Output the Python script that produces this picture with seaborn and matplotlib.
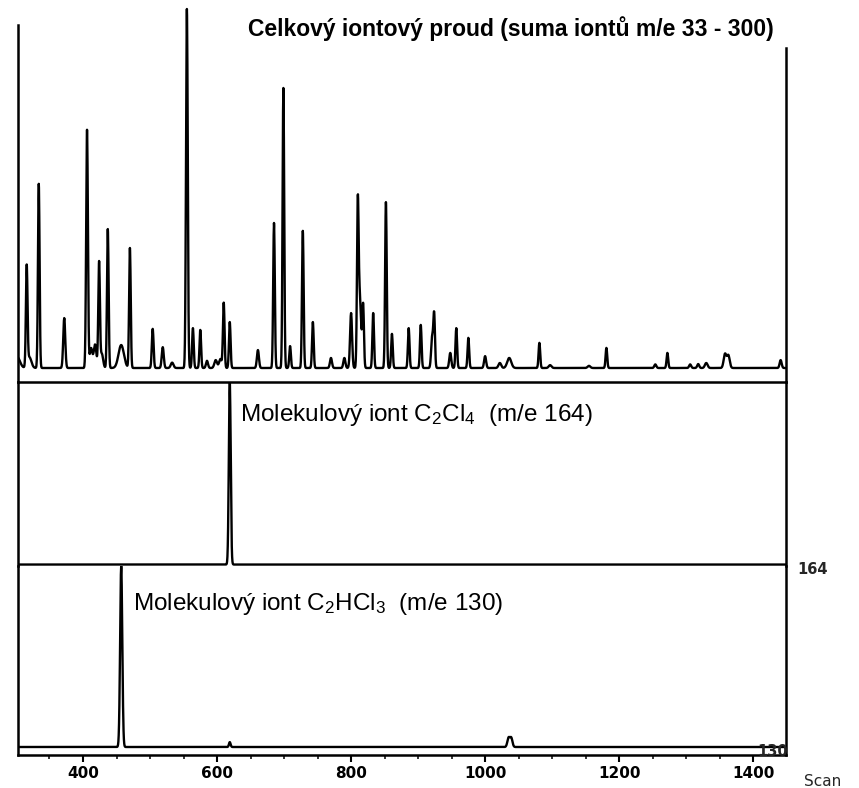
import numpy as np
import pandas as pd
import matplotlib
matplotlib.use("Agg")
import matplotlib.pyplot as plt
import seaborn as sns

# ---- chromatogram data (scan number, relative intensity %, peak sigma in scans) ----
tic_scan = [302, 316, 320, 334, 372, 406, 412, 418, 424, 428, 437, 457, 470, 504, 519, 533,
            555, 564, 575, 585, 598, 605, 610, 619, 661, 685, 699, 709, 728, 743, 770, 790,
            800, 810, 813, 818, 833, 852, 861, 886, 904, 921, 924, 948, 957, 975, 1000,
            1022, 1036, 1081, 1097, 1155, 1181, 1254, 1272, 1306, 1318, 1330, 1358, 1363, 1441]
tic_height = [3.0, 27.6, 3.0, 51.3, 13.9, 66.3, 5.5, 6.5, 29.2, 4.0, 38.7, 6.4, 33.4, 10.9, 5.8, 1.5,
              100.0, 11.1, 10.6, 2.0, 2.2, 2.5, 18.1, 12.8, 5.0, 40.4, 78.0, 6.1, 38.2, 12.8, 2.8, 2.8,
              15.3, 41.5, 20.0, 17.3, 15.3, 46.2, 9.5, 11.1, 12.0, 8.6, 14.5, 4.2, 11.1, 8.4, 3.3,
              1.4, 2.8, 7.0, 0.8, 0.6, 5.6, 1.0, 4.2, 1.0, 1.1, 1.4, 3.9, 3.5, 2.2]
tic_sigma = [4.0, 1.2, 3.0, 1.2, 1.5, 1.3, 2.0, 2.0, 1.2, 2.0, 1.2, 4.0, 1.2, 1.3, 1.5, 2.0,
             1.3, 1.2, 1.2, 1.5, 2.0, 2.0, 1.2, 1.2, 1.5, 1.2, 1.2, 1.2, 1.2, 1.2, 1.5, 1.5,
             1.5, 1.2, 2.0, 1.2, 1.2, 1.2, 1.2, 1.2, 1.2, 1.5, 1.2, 1.5, 1.2, 1.2, 1.5,
             2.0, 3.0, 1.2, 2.0, 2.0, 1.2, 1.5, 1.2, 1.5, 1.5, 2.0, 2.0, 2.0, 1.5]

ion164_scan = [619]
ion164_height = [100.0]
ion164_sigma = [1.4]

ion130_scan = [457, 619, 1035, 1039]
ion130_height = [100.0, 2.7, 5.0, 5.0]
ion130_sigma = [1.6, 1.2, 1.8, 1.8]

x_ticks = [400, 600, 800, 1000, 1200, 1400]

title_tic = "Celkový iontový proud (suma iontů m/e 33 - 300)"
title_164 = "Molekulový iont C$_2$Cl$_4$  (m/e 164)"
title_130 = "Molekulový iont C$_2$HCl$_3$  (m/e 130)"
label_164 = "164"
label_130 = "130"
x_label = "Scan"

# ---- build the traces from the peak tables ----
scan = np.arange(300, 1452.01, 0.25)


def trace(centres, heights, sigmas):
    y = np.zeros_like(scan)
    for c, h, s in zip(centres, heights, sigmas):
        y += h * np.exp(-0.5 * ((scan - c) / s) ** 2)
    return y


df = pd.DataFrame({
    "scan": scan,
    "tic": trace(tic_scan, tic_height, tic_sigma),
    "m164": trace(ion164_scan, ion164_height, ion164_sigma),
    "m130": trace(ion130_scan, ion130_height, ion130_sigma),
})

sns.set_theme(style="white")
plt.rcParams["font.family"] = ["Liberation Sans", "DejaVu Sans"]
plt.rcParams["mathtext.fontset"] = "custom"
plt.rcParams["mathtext.rm"] = "Liberation Sans"
plt.rcParams["mathtext.it"] = "Liberation Sans"
plt.rcParams["mathtext.bf"] = "Liberation Sans:bold"

W, H = 859, 788
fig = plt.figure(figsize=(W / 100, H / 100), dpi=100)


def fx(px):
    return px / W


def fy(py):
    return 1 - py / H


left, right = 18, 786
ax_top = fig.add_axes([fx(left), fy(382), fx(right - left), fy(5) - fy(382)])
ax_mid = fig.add_axes([fx(left), fy(566), fx(right - left), fy(382) - fy(566)])
ax_bot = fig.add_axes([fx(left), fy(755), fx(right - left), fy(566) - fy(755)])

lw = 1.7
for ax, col in [(ax_top, "tic"), (ax_mid, "m164"), (ax_bot, "m130")]:
    sns.lineplot(data=df, x="scan", y=col, ax=ax, color="black", linewidth=lw,
                 estimator=None, sort=False)
    ax.set_xlim(303, 1449)
    ax.set_xlabel("")
    ax.set_ylabel("")
    ax.set_yticks([])
    ax.set_facecolor("none")
    for sp in ax.spines.values():
        sp.set_color("black")
        sp.set_linewidth(1.8)
    ax.spines["top"].set_visible(False)

# top panel: baseline 14 px above the frame line, largest peak near the top
ppu = (368 - 9) / 100.0
ax_top.set_ylim(-14 / ppu, 100 + 4 / ppu)
ax_top.spines["left"].set_bounds(-14 / ppu, (368 - 25) / ppu)
ax_top.spines["right"].set_bounds(-14 / ppu, (368 - 48) / ppu)
ax_top.set_xticks([])

# middle panel: trace baseline doubles as the lower frame
ax_mid.set_ylim(-0.8, 100)
ax_mid.spines["bottom"].set_visible(False)
ax_mid.set_xticks([])

# bottom panel with the scan axis
ax_bot.set_ylim(-8 / 1.81, 100)
ax_bot.set_xticks(x_ticks)
ax_bot.set_xticks(np.arange(350, 1450, 50), minor=True)
ax_bot.tick_params(axis="x", which="major", direction="out", length=5, width=1.5,
                   bottom=True, labelsize=11, pad=3, colors="black")
ax_bot.tick_params(axis="x", which="minor", direction="out", length=3, width=1.3, bottom=True)
for t in ax_bot.get_xticklabels():
    t.set_fontweight("bold")
    t.set_family("DejaVu Sans")

fig.text(fx(248), fy(29), title_tic, fontsize=16.5, fontweight="bold", ha="left", va="center",
         color="black")
fig.text(fx(240), fy(415), title_164, fontsize=17.5, ha="left", va="center", color="black")
fig.text(fx(133), fy(604), title_130, fontsize=17.5, ha="left", va="center", color="black")
fig.text(fx(797), fy(570), label_164, fontsize=10.5, fontweight="bold", ha="left", va="center",
         family="DejaVu Sans")
fig.text(fx(757), fy(751), label_130, fontsize=10.5, fontweight="bold", ha="left", va="center",
         family="DejaVu Sans")
fig.text(fx(804), fy(782), x_label, fontsize=11, ha="left", va="center", family="DejaVu Sans")

fig.savefig("out.png", dpi=100, facecolor="white")
